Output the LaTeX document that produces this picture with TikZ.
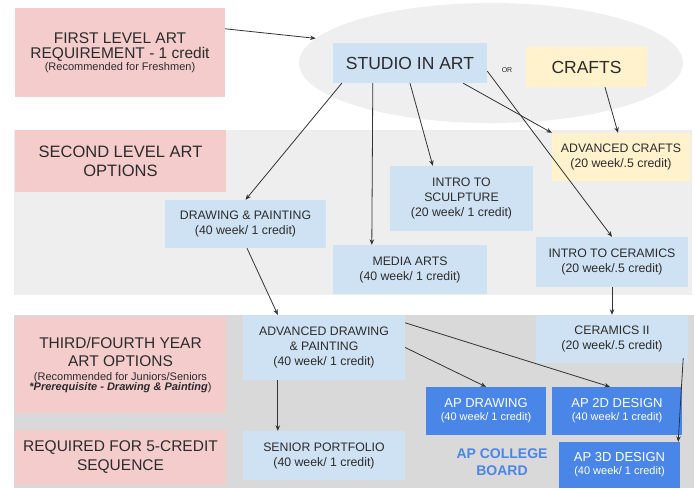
\documentclass[tikz,border=0pt]{standalone}
\usepackage{fontspec}
\setmainfont{Liberation Sans}
\usetikzlibrary{shapes.geometric,arrows.meta,calc}
\definecolor{pinkc}{HTML}{F4CCCC}
\definecolor{bluec}{HTML}{CFE2F3}
\definecolor{yellowc}{HTML}{FFF2CC}
\definecolor{apc}{HTML}{4A86E8}
\definecolor{bandA}{HTML}{EEEEEE}
\definecolor{bandB}{HTML}{D9D9D9}
\definecolor{ovalc}{HTML}{EFEFEF}
\definecolor{txt}{HTML}{2B2B2B}
\definecolor{arrc}{HTML}{333333}
\newcommand\setfs[2]{\fontsize{#1}{#2}\selectfont}
\begin{document}
\begin{tikzpicture}[x=1pt,y=-1pt,
  basebox/.style={rectangle, inner sep=0pt, align=center, text=txt},
  pinkb/.style={basebox, fill=pinkc},
  blueb/.style={basebox, fill=bluec, font=\setfs{12.3}{15}},
  yellowb/.style={basebox, fill=yellowc, font=\setfs{12.3}{15}},
  apb/.style={basebox, fill=apc, text=white, font=\setfs{13}{13}},
  arr/.style={draw=arrc, line width=0.8pt, -{Stealth[length=5.5pt,width=4.5pt]}}]
\useasboundingbox (0,0) rectangle (694,488);
\fill[white] (0,0) rectangle (694,488);
% bands
\fill[bandA] (14,130) rectangle (692,295);
\fill[bandB] (14,315) rectangle (694,488);
% oval
\node[ellipse, fill=ovalc, minimum width=384pt, minimum height=120pt, inner sep=0pt] (oval) at (491,63) {};
% pink headers
\node[pinkb, font=\setfs{15.5}{14.5}, minimum width=210pt, minimum height=89pt] (p1) at (120,52.5)
  {FIRST LEVEL ART\\REQUIREMENT - 1 credit\\[-2.5pt]{\setfs{11}{12}(Recommended for Freshmen)}};
\node[pinkb, font=\setfs{16.5}{19}, minimum width=211pt, minimum height=62pt] (p2) at (120.5,161)
  {SECOND LEVEL ART\\OPTIONS};
\node[pinkb, font=\setfs{15.5}{18.5}, minimum width=211pt, minimum height=96pt] (p3) at (120.5,365)
  {THIRD/FOURTH YEAR\\ART OPTIONS\\[-4.5pt]{\setfs{11}{12}(Recommended for Juniors/Seniors}\\[-9pt]{\setfs{11}{12}\textbf{\textit{*Prerequisite - Drawing \& Painting}})}};
\node[pinkb, font=\setfs{15.5}{19}, minimum width=211pt, minimum height=55pt] (p4) at (120.5,457.5)
  {REQUIRED FOR 5-CREDIT\\SEQUENCE};
% first level
\node[basebox, fill=bluec, font=\setfs{17.5}{20}, minimum width=154pt, minimum height=40pt] (studio) at (410,63) {STUDIO IN ART};
\node[basebox, font=\setfs{7}{8}] (or) at (507,70) {OR};
\node[basebox, fill=yellowc, font=\setfs{17.5}{20}, minimum width=121pt, minimum height=40pt] (crafts) at (586.5,67) {CRAFTS};
% second level
\node[yellowb, minimum width=138pt, minimum height=48pt] (advcrafts) at (621,157) {ADVANCED CRAFTS\\(20 week/.5 credit)};
\node[blueb, minimum width=143pt, minimum height=65pt] (sculpt) at (461.5,198.5) {INTRO TO\\SCULPTURE\\(20 week/ 1 credit)};
\node[blueb, minimum width=161pt, minimum height=48pt] (dp) at (245.5,224) {DRAWING \& PAINTING\\(40 week/ 1 credit)};
\node[blueb, minimum width=154pt, minimum height=49pt] (media) at (410,269.5) {MEDIA ARTS\\(40 week/ 1 credit)};
\node[blueb, minimum width=152pt, minimum height=50pt] (ceram) at (612,262) {INTRO TO CERAMICS\\(20 week/.5 credit)};
% third level
\node[blueb, minimum width=162pt, minimum height=65pt] (adp) at (324,347.5) {ADVANCED DRAWING\\\& PAINTING\\(40 week/ 1 credit)};
\node[blueb, minimum width=162pt, minimum height=49pt] (senior) at (324,455.5) {SENIOR PORTFOLIO\\(40 week/ 1 credit)};
\node[blueb, minimum width=152pt, minimum height=48pt] (ceram2) at (612,339) {CERAMICS II\\(20 week/.5 credit)};
\node[apb, minimum width=120pt, minimum height=48pt] (apdraw) at (486,411) {AP DRAWING\\[0pt]{\setfs{11}{12}(40 week/ 1 credit)}};
\node[apb, minimum width=130pt, minimum height=48pt] (ap2d) at (617,411) {AP 2D DESIGN\\[0pt]{\setfs{11}{12}(40 week/ 1 credit)}};
\node[apb, minimum width=121pt, minimum height=46pt] (ap3d) at (619.5,465) {AP 3D DESIGN\\[0pt]{\setfs{11}{12}(40 week/ 1 credit)}};
\node[basebox, text=apc, font=\bfseries\setfs{14}{17}] (board) at (502,462) {AP COLLEGE\\BOARD};
% connectors
\draw[arr] ($(p1.north east)+(0,21)$) -- (oval.172);
\draw[arr] ($(studio.south west)+(9,0)$) -- (dp.north);
\draw[arr] ($(studio.south west)+(40,0)$) -- ($(media.north west)+(39,0)$);
\draw[arr] (studio.south) -- ($(sculpt.north west)+(43,0)$);
\draw[arr] ($(studio.south east)+(-24,0)$) -- (advcrafts.north west);
\draw[arr] ($(studio.east)+(0,8)$) -- (ceram.north);
\draw[arr] ($(crafts.south)+(18.5,0)$) -- ($(advcrafts.north)+(-3,0)$);
\draw[arr] ($(dp.south)+(1.5,0)$) -- ($(adp.north west)+(35,0)$);
\draw[arr] (ceram.south) -- (ceram2.north);
\draw[arr] ($(adp.south west)+(35,0)$) -- ($(senior.north west)+(35,0)$);
\draw[arr] (adp.east) -- (apdraw.north);
\draw[arr] ($(adp.north east)+(0,8)$) -- ($(ap2d.north)+(-7,0)$);
\draw[arr] ($(ceram2.south east)+(-5,-5)$) -- ($(ap3d.north east)+(-2,0)$);
\end{tikzpicture}
\end{document}
